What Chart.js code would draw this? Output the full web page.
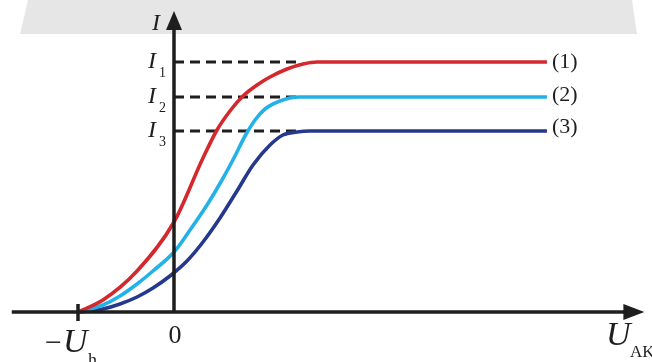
<!DOCTYPE html>
<html lang="vi">
<head>
<meta charset="UTF-8">
<title>Đặc tuyến vôn-ampe của tế bào quang điện</title>
<script src="https://cdn.jsdelivr.net/npm/chart.js@4.4.1/dist/chart.umd.min.js"></script>
<style>
  body { margin: 0; background: #fff; }
  #wrap { width: 652px; height: 362px; position: relative; }
</style>
</head>
<body>
<div id="wrap"><canvas id="chart"></canvas></div>
<script>
// U_AK in units of U_h, I in arbitrary units
const u1 = [-1, -0.74, -0.385, 0, 0.302, 0.448, 0.583, 0.719, 0.865, 1.0, 1.177, 1.344, 1.49, 3.885];
const i1 = [0, 0.24, 0.82, 1.8, 3.08, 3.64, 4.02, 4.32, 4.54, 4.7, 4.86, 4.96, 5.0, 5.0];

const u2 = [-1, -0.875, -0.74, -0.5625, -0.385, -0.219, 0, 0.167, 0.344, 0.5, 0.635, 0.74, 0.844, 0.948, 1.104, 1.3, 3.885];
const i2 = [0, 0.06, 0.14, 0.32, 0.56, 0.82, 1.2, 1.64, 2.14, 2.64, 3.12, 3.52, 3.84, 4.06, 4.22, 4.3, 4.3];

const u3 = [-1, -0.875, -0.74, -0.5625, -0.385, -0.219, -0.042, 0.135, 0.302, 0.479, 0.656, 0.823, 1.0, 1.135, 1.281, 1.417, 3.885];
const i3 = [0, 0.02, 0.06, 0.16, 0.3, 0.48, 0.72, 1.02, 1.4, 1.88, 2.42, 2.94, 3.34, 3.54, 3.6, 3.62, 3.62];

const saturation = [5.0, 4.3, 3.62];      // I1, I2, I3
const dashEnd = 1.3125;                    // dashed guides run from U=0 to here
const curveNames = ['(1)', '(2)', '(3)'];
const satNames = ['1', '2', '3'];
const stopU = -1;                          // -U_h

const colors = ['#d4282f', '#23b2e8', '#26388c'];

const toPts = (xs, ys) => xs.map((x, k) => ({ x: x, y: ys[k] }));

const curves = [toPts(u1, i1), toPts(u2, i2), toPts(u3, i3)].map((d, k) => ({
    data: d,
    borderColor: colors[k],
    borderWidth: 3.6,
    pointRadius: 0,
    showLine: true,
    cubicInterpolationMode: 'monotone'
}));

const guides = saturation.map(v => ({
    data: [{ x: 0, y: v }, { x: dashEnd, y: v }],
    borderColor: '#1e1e1e',
    borderWidth: 3,
    borderDash: [10, 6],
    pointRadius: 0,
    showLine: true
}));

const serif = '"Liberation Serif", "Times New Roman", serif';
const ink = '#1e1e1e';

const decor = {
    id: 'decor',
    beforeDraw(chart) {
        const c = chart.ctx;
        c.save();
        // watermark band
        c.fillStyle = '#e6e6e6';
        c.beginPath();
        c.moveTo(28, 0); c.lineTo(632, 0); c.lineTo(637, 34); c.lineTo(20, 34);
        c.closePath(); c.fill();
        c.restore();
    },
    afterDatasetsDraw(chart) {
        const c = chart.ctx;
        const xs = chart.scales.x, ys = chart.scales.y;
        const x0 = xs.getPixelForValue(0), y0 = ys.getPixelForValue(0);
        c.save();
        c.strokeStyle = ink; c.fillStyle = ink; c.lineWidth = 3.5;

        // x axis with arrow
        const xl = xs.getPixelForValue(-1.69), xr = xs.getPixelForValue(4.9);
        c.beginPath(); c.moveTo(xl, y0); c.lineTo(xr - 18, y0); c.stroke();
        c.beginPath(); c.moveTo(xr, y0); c.lineTo(xr - 21, y0 - 8); c.lineTo(xr - 21, y0 + 8); c.closePath(); c.fill();

        // y axis with arrow
        const yt = ys.getPixelForValue(6.02);
        c.beginPath(); c.moveTo(x0, y0 + 1); c.lineTo(x0, yt + 16); c.stroke();
        c.beginPath(); c.moveTo(x0, yt); c.lineTo(x0 - 8, yt + 19); c.lineTo(x0 + 8, yt + 19); c.closePath(); c.fill();

        // tick at -U_h
        const xu = xs.getPixelForValue(stopU);
        c.beginPath(); c.moveTo(xu, y0 - 8); c.lineTo(xu, y0 + 9); c.stroke();

        // text
        c.textBaseline = 'alphabetic';
        c.textAlign = 'left';
        c.font = 'italic 24px ' + serif;
        c.fillText('I', x0 - 22, yt + 19);

        saturation.forEach((v, k) => {
            const yp = ys.getPixelForValue(v);
            c.font = 'italic 24px ' + serif;
            c.fillText('I', x0 - 26, yp + 6);
            c.font = '14px ' + serif;
            c.fillText(satNames[k], x0 - 15, yp + 15);
        });

        c.font = '22px ' + serif;
        c.textBaseline = 'middle';
        const lift = [0, 2, 4];
        saturation.forEach((v, k) => {
            c.fillText(curveNames[k], xs.getPixelForValue(3.885) + 5, ys.getPixelForValue(v) - lift[k]);
        });

        c.textBaseline = 'alphabetic';
        c.textAlign = 'center';
        c.font = '26px ' + serif;
        c.fillText('0', x0 + 1, y0 + 31);

        // -U_h
        c.textAlign = 'left';
        c.font = '30px ' + serif;
        c.fillText('\u2212', xu - 33, y0 + 40);
        c.font = 'italic 34px ' + serif;
        c.fillText('U', xu - 15, y0 + 40);
        c.font = '18px ' + serif;
        c.fillText('h', xu + 10, y0 + 54);

        // U_AK
        c.font = 'italic 34px ' + serif;
        c.fillText('U', xs.getPixelForValue(4.5), y0 + 33);
        c.font = '17px ' + serif;
        c.fillText('AK', xs.getPixelForValue(4.75), y0 + 45);

        c.restore();
    }
};

new Chart(document.getElementById('chart'), {
    type: 'scatter',
    data: { datasets: curves.concat(guides) },
    options: {
        responsive: true,
        maintainAspectRatio: false,
        animation: false,
        layout: { padding: 0 },
        plugins: { legend: { display: false }, tooltip: { enabled: false } },
        scales: {
            x: { type: 'linear', display: false, min: -1.8125, max: 4.9792 },
            y: { type: 'linear', display: false, min: -1, max: 6.24 }
        }
    },
    plugins: [decor]
});
</script>
</body>
</html>
